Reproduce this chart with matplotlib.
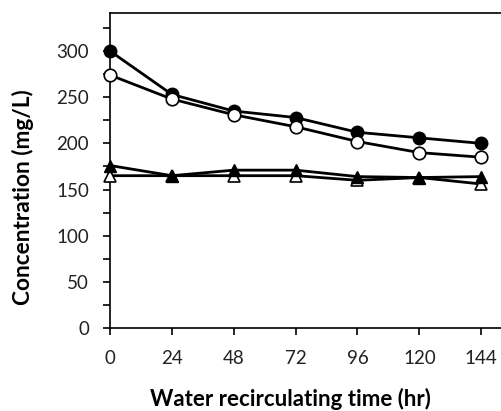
import matplotlib
matplotlib.use("Agg")
import matplotlib.pyplot as plt
from matplotlib.ticker import MultipleLocator

plt.rcParams['font.family'] = ['Lato', 'DejaVu Sans']

time_hr = [0, 24, 48, 72, 96, 120, 144]
filled_circle = [300, 253, 235, 228, 212, 206, 200]
open_circle = [274, 248, 231, 218, 202, 190, 185]
filled_triangle = [176, 165, 171, 171, 164, 163, 164]
open_triangle = [165, 165, 165, 165, 160, 163, 156]

fig = plt.figure(figsize=(5.01, 4.11), dpi=100)
ax = fig.add_axes([0.2196, 0.2019, 0.80, 0.766])

lw = 2.0
ms = 9
ax.plot(time_hr, filled_circle, color='black', lw=lw, marker='o', ms=ms,
        mfc='black', mec='black', clip_on=False, zorder=3)
ax.plot(time_hr, open_circle, color='black', lw=lw, marker='o', ms=ms,
        mfc='white', mec='black', mew=1.2, clip_on=False, zorder=3)
ax.plot(time_hr, open_triangle, color='black', lw=lw, marker='^', ms=ms,
        mfc='white', mec='black', mew=1.2, clip_on=False, zorder=3)
ax.plot(time_hr, filled_triangle, color='black', lw=lw, marker='^', ms=ms,
        mfc='black', mec='black', clip_on=False, zorder=3)

ax.set_xlim(0, 155.5)
ax.set_ylim(0, 341)
ax.set_xticks(time_hr)
ax.set_yticks([0, 50, 100, 150, 200, 250, 300])
ax.yaxis.set_minor_locator(MultipleLocator(25))
ax.spines['right'].set_visible(False)
for s in ['left', 'bottom', 'top']:
    ax.spines[s].set_linewidth(1.2)
ax.tick_params(axis='both', which='major', direction='out', length=5, width=1.2,
               labelsize=13.5, labelcolor='#222222')
ax.tick_params(axis='y', which='minor', direction='out', length=5, width=1.2)
ax.tick_params(axis='y', pad=10)
ax.tick_params(axis='x', pad=11)

ax.set_ylabel('Concentration (mg/L)', fontsize=16.3, fontweight='bold')
ax.set_xlabel('Water recirculating time (hr)', fontsize=16, fontweight='bold')
ax.yaxis.set_label_coords(-0.19, 0.416)
ax.xaxis.set_label_coords(0.449, -0.19)

fig.savefig('out.png', dpi=100)
